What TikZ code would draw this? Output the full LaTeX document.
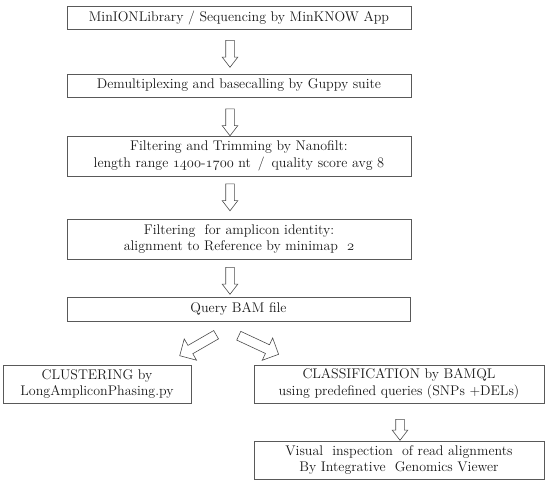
\documentclass[tikz,border=0pt]{standalone}
\usepackage{fontspec}
\usetikzlibrary{shapes.arrows}
\newcommand\osn[1]{{\usefont{OML}{cmm}{m}{it}#1}}
\begin{document}
\begin{tikzpicture}[x=1pt,y=-1pt,
  stepbox/.style={draw=black!65, line width=1pt, inner sep=0pt, align=center,
    font=\fontsize{14}{16.5}\selectfont, text=black!90},
  blockarrow/.style={draw=black!70, line width=0.6pt, shape=single arrow, inner xsep=0pt,
    inner ysep=4pt, single arrow head extend=3.5pt, single arrow tip angle=75, minimum height=27pt},
  bigarrow/.style={blockarrow, inner ysep=4.5pt, single arrow head extend=7.5pt, single arrow tip angle=90}]
\useasboundingbox (0,0) rectangle (550,488);
\node[stepbox, minimum width=344pt, minimum height=23pt] (b1) at (239,18) {MinIONLibrary / Sequencing by MinKNOW App};
\node[stepbox, minimum width=344pt, minimum height=23pt] (b2) at (239,85.5) {Demultiplexing and basecalling by Guppy suite};
\node[stepbox, minimum width=344pt, minimum height=40pt] (b3) at (239,156) {Filtering and Trimming by Nanofilt:\\length range \osn{1400}-\osn{1700} nt \,/ \,quality score avg \osn{8}};
\node[stepbox, minimum width=344pt, minimum height=40pt] (b4) at (239,239) {Filtering \ for amplicon identity:\\alignment to Reference by minimap \ \osn{2}};
\node[stepbox, minimum width=343pt, minimum height=24pt] (b5) at (238.5,309) {Query BAM file};
\node[stepbox, minimum width=188pt, minimum height=38pt] (b6) at (97,384) {CLUSTERING by\\LongAmpliconPhasing.py};
\node[stepbox, minimum width=290pt, minimum height=38pt] (b7) at (399,384) {CLASSIFICATION by BAMQL\\using predefined queries (SNPs +DELs)};
\node[stepbox, minimum width=290pt, minimum height=38pt] (b8) at (399,460) {Visual \ inspection \ of read alignments\\By Integrative \ Genomics Viewer};
\node[blockarrow, rotate=-90] (a1) at (230,51) {};
\node[blockarrow, rotate=-90] (a2) at (230,119.5) {};
\node[blockarrow, rotate=-90] (a3) at (230,194.5) {};
\node[blockarrow, rotate=-90] (a4) at (230,278) {};
\node[bigarrow, rotate=-150, minimum height=42pt] (a5) at (200,344) {};
\node[bigarrow, rotate=-25, minimum height=44pt] (a6) at (256.5,344) {};
\node[blockarrow, rotate=-90, minimum height=21pt] (a7) at (400,427) {};
\end{tikzpicture}
\end{document}
